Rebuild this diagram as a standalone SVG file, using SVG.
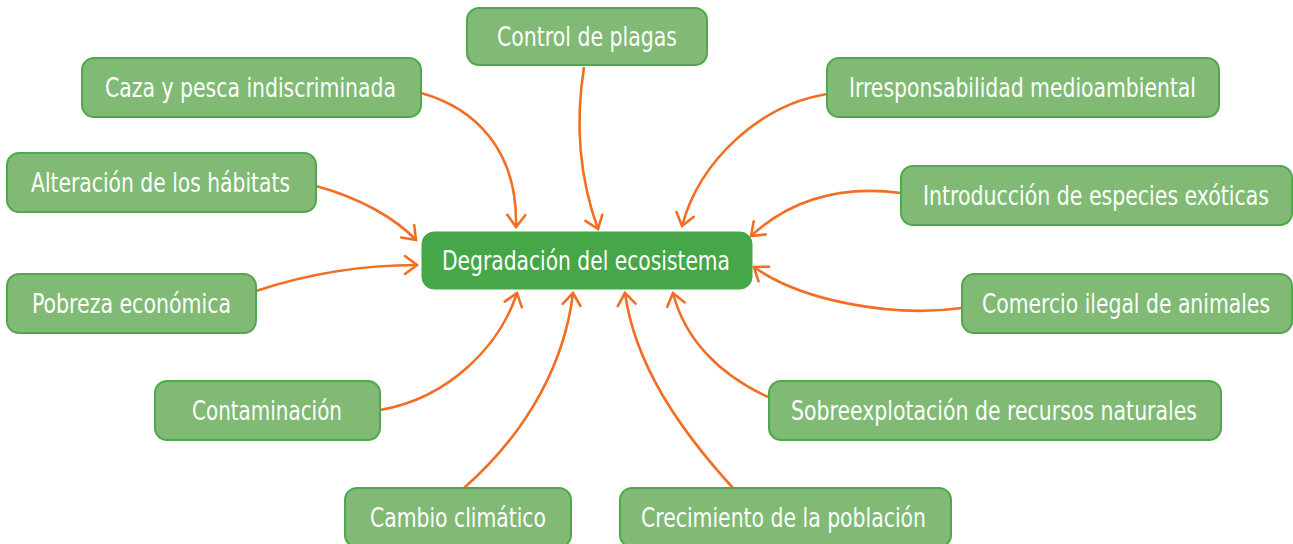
<svg xmlns="http://www.w3.org/2000/svg" width="1293" height="544" viewBox="0 0 1293 544">
<defs>
<style>
.n rect{fill:#80ba75;stroke:#4fa84b;stroke-width:2}
.c rect{fill:#46a748;stroke:#46a748;stroke-width:1}
text{font-family:"Liberation Sans Narrow","DejaVu Sans Condensed","Roboto",sans-serif;font-stretch:condensed;font-size:26px;fill:#ffffff;text-anchor:middle}
.e path{fill:none;stroke:#f26e22;stroke-width:2.6;marker-end:url(#ah)}
</style>
<marker id="ah" markerUnits="userSpaceOnUse" markerWidth="22" markerHeight="22" viewBox="0 0 22 22" refX="16" refY="11" orient="auto">
<path d="M4,2 L16,11 L4,20" fill="none" stroke="#f26e22" stroke-width="2.6" stroke-linecap="round" stroke-linejoin="miter"/>
</marker>
</defs>
<rect width="1293" height="544" fill="#ffffff"/>
<g id="connectors" class="e">
<path d="M421,93 C475,108 518,150 516,227"/>
<path d="M584,67 C574,130 582,185 598,229"/>
<path d="M827,94 C760,105 700,160 682,226"/>
<path d="M901,193 C840,185 790,200 751,236"/>
<path d="M316,186 C360,198 395,218 416,240"/>
<path d="M256,291 C310,273 360,265 417,265"/>
<path d="M962,308 C890,318 800,300 754,267"/>
<path d="M380,410 C450,398 500,345 517,293"/>
<path d="M768,397 C720,375 685,340 673,293"/>
<path d="M464,488 C530,430 565,360 573,293"/>
<path d="M733,488 C680,430 635,365 625,293"/>
</g>
<g id="central" class="c"><rect x="422" y="232" width="330" height="57" rx="12"/><text x="586" y="270" textLength="288" lengthAdjust="spacingAndGlyphs">Degradación del ecosistema</text></g>
<g id="control" class="n"><rect x="467" y="8" width="240" height="57" rx="12"/><text x="587" y="46" textLength="180" lengthAdjust="spacingAndGlyphs">Control de plagas</text></g>
<g id="caza" class="n"><rect x="82" y="58" width="339" height="59" rx="12"/><text x="250.5" y="97" textLength="291" lengthAdjust="spacingAndGlyphs">Caza y pesca indiscriminada</text></g>
<g id="irresponsabilidad" class="n"><rect x="827" y="58" width="392" height="59" rx="12"/><text x="1022.5" y="97" textLength="347" lengthAdjust="spacingAndGlyphs">Irresponsabilidad medioambiental</text></g>
<g id="introduccion" class="n"><rect x="901" y="166" width="391" height="59" rx="12"/><text x="1096" y="205" textLength="346" lengthAdjust="spacingAndGlyphs">Introducción de especies exóticas</text></g>
<g id="alteracion" class="n"><rect x="7" y="153" width="309" height="59" rx="12"/><text x="160.5" y="192" textLength="259" lengthAdjust="spacingAndGlyphs">Alteración de los hábitats</text></g>
<g id="pobreza" class="n"><rect x="7" y="274" width="249" height="59" rx="12"/><text x="131.5" y="313" textLength="199" lengthAdjust="spacingAndGlyphs">Pobreza económica</text></g>
<g id="comercio" class="n"><rect x="962" y="274" width="330" height="59" rx="12"/><text x="1126" y="313" textLength="288" lengthAdjust="spacingAndGlyphs">Comercio ilegal de animales</text></g>
<g id="contaminacion" class="n"><rect x="155" y="381" width="225" height="59" rx="12"/><text x="267" y="420" textLength="150" lengthAdjust="spacingAndGlyphs">Contaminación</text></g>
<g id="sobreexplotacion" class="n"><rect x="769" y="381" width="452" height="59" rx="12"/><text x="994" y="420" textLength="406" lengthAdjust="spacingAndGlyphs">Sobreexplotación de recursos naturales</text></g>
<g id="cambio" class="n"><rect x="345" y="488" width="226" height="59" rx="12"/><text x="458" y="527" textLength="176" lengthAdjust="spacingAndGlyphs">Cambio climático</text></g>
<g id="crecimiento" class="n"><rect x="620" y="488" width="331" height="59" rx="12"/><text x="783.5" y="527" textLength="285" lengthAdjust="spacingAndGlyphs">Crecimiento de la población</text></g>
</svg>
